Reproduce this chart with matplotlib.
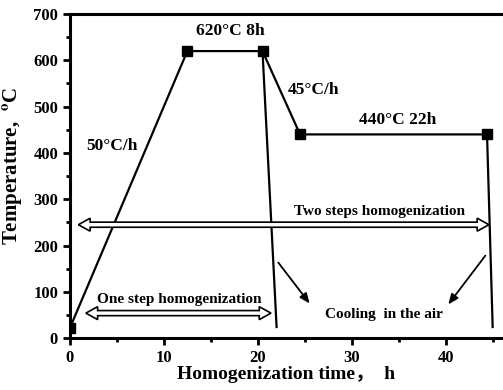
import matplotlib.pyplot as plt
import numpy as np
from matplotlib.patches import Polygon
from matplotlib.ticker import MultipleLocator

plt.rcParams['font.family'] = ['Liberation Serif', 'Noto Sans CJK SC']
plt.rcParams['font.weight'] = 'bold'
plt.rcParams['mathtext.fontset'] = 'stix'

# heat treatment path (time h, temperature C)
path_t = [0, 12.5, 20.5, 24.5, 44.4]
path_T = [22, 620, 620, 440, 440]
# air cooling legs
cool1_t = [20.5, 22.0]
cool1_T = [620, 24]
cool2_t = [44.4, 45.0]
cool2_T = [440, 24]

# hollow double arrows: (x0, x1, y)
two_step = (0.9, 44.6, 245)
one_step = (1.7, 21.4, 54)

# black pointer arrows: (x_start, y_start, x_end, y_end)
pointers = [(22.0, 168, 25.7, 70), (44.4, 183, 40.1, 68)]

labels = [
    ('620°C 8h', 17.1, 664),
    ('45°C/h', 25.9, 537),
    ('440°C 22h', 34.9, 472),
    ('50°C/h', 4.5, 416),
    ('Two steps homogenization', 33.0, 274),
    ('One step homogenization', 11.6, 84),
    ('Cooling  in the air', 33.4, 50),
]


def double_arrow(ax, x0, x1, y, bh=5.5, hh=14, hl=1.25):
    xs = [x0, x0 + hl, x0 + hl, x1 - hl, x1 - hl, x1, x1 - hl, x1 - hl, x0 + hl, x0 + hl]
    ys = [y, y + hh, y + bh, y + bh, y + hh, y, y - hh, y - bh, y - bh, y - hh]
    ax.add_patch(Polygon(np.column_stack([xs, ys]), closed=True, fc='white', ec='k', lw=1.2, zorder=3))


fig = plt.figure(figsize=(5.03, 3.9), dpi=100)
ax = fig.add_axes([0.139, 0.133, 0.861, 0.831])

ax.plot(path_t, path_T, color='k', lw=1.6)
ax.plot(cool1_t, cool1_T, color='k', lw=1.6)
ax.plot(cool2_t, cool2_T, color='k', lw=1.6)
ax.plot(path_t, path_T, ls='none', marker='s', ms=6.5, color='k', zorder=4)

double_arrow(ax, *two_step)
double_arrow(ax, *one_step)

for xs, ys, xe, ye in pointers:
    ax.annotate('', xy=(xe, ye), xytext=(xs, ys),
                arrowprops=dict(arrowstyle='-|>,head_length=0.6,head_width=0.25', color='k', lw=1.3))

sizes = [12.5, 12.5, 12.5, 12.5, 11, 11, 11]
for (txt, x, y), fs in zip(labels, sizes):
    ax.text(x, y, txt, ha='center', va='center', fontsize=fs, fontweight='bold', zorder=5)

ax.set_xlim(0, 46.1)
ax.set_ylim(0, 700)
ax.xaxis.set_major_locator(MultipleLocator(10))
ax.xaxis.set_minor_locator(MultipleLocator(5))
ax.yaxis.set_major_locator(MultipleLocator(100))
ax.yaxis.set_minor_locator(MultipleLocator(50))
ax.tick_params(which='major', length=5, width=2, labelsize=12, direction='out')
ax.tick_params(which='minor', length=3, width=2, direction='out')
for lab in ax.get_xticklabels() + ax.get_yticklabels():
    lab.set_fontweight('bold')
for side in ['left', 'bottom', 'top']:
    ax.spines[side].set_linewidth(2.2)
ax.spines['right'].set_visible(False)

ax.set_xlabel('Homogenization time，  h', fontsize=14, fontweight='bold', labelpad=0)
ax.set_ylabel('Temperature,  $^{\\mathbf{o}}$C', fontsize=15, fontweight='bold', labelpad=1)
ax.yaxis.set_label_coords(-0.105, 0.53)

fig.savefig('out.png', dpi=100)
